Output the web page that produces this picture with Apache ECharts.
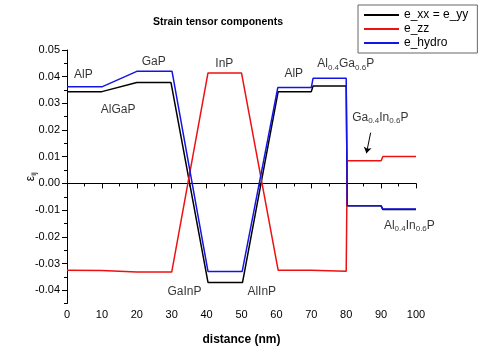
<!DOCTYPE html>
<html>
<head>
<meta charset="utf-8">
<script src="https://cdn.jsdelivr.net/npm/echarts@6/dist/echarts.min.js"></script>
<style>html,body{margin:0;padding:0;background:#fff}#main{width:480px;height:350px}</style>
</head>
<body>
<div id="main"></div>
<script>
// e_xx = e_yy
var xxX = [0, 10, 20, 29.8, 40.4, 50.3, 60.5, 70, 70.5, 80, 80.3, 90, 90.5, 100];
var xxY = [0.0344, 0.0344, 0.0378, 0.0378, -0.0371, -0.0371, 0.0344, 0.0344, 0.0365, 0.0365, -0.0084, -0.0084, -0.0098, -0.0098];
// e_zz
var zzX = [0, 10, 20, 30, 40.4, 50, 60.5, 70, 70.5, 80, 80.3, 90, 90.5, 100];
var zzY = [-0.0325, -0.0326, -0.0332, -0.0332, 0.0414, 0.0414, -0.0325, -0.0325, -0.0329, -0.0329, 0.0085, 0.0085, 0.0101, 0.0101];
// e_hydro
var hyX = [0, 10, 20, 30.1, 40.4, 50.2, 60.4, 70, 70.5, 80, 80.3, 90, 90.5, 100];
var hyY = [0.0362, 0.0362, 0.042, 0.042, -0.033, -0.033, 0.0359, 0.0359, 0.0394, 0.0394, -0.0084, -0.0084, -0.0096, -0.0096];

var yMajor = [-0.04, -0.03, -0.02, -0.01, 0, 0.01, 0.02, 0.03, 0.04, 0.05];
var yMinor = [-0.045, -0.035, -0.025, -0.015, -0.005, 0.005, 0.015, 0.025, 0.035, 0.045];

// layer labels (data coordinates)
var annoText = ['AlP', 'GaP', 'AlGaP', 'InP', 'AlP', 'Al{s|0.4}Ga{s|0.6}P', 'Ga{s|0.4}In{s|0.6}P', 'Al{s|0.4}In{s|0.6}P', 'GaInP', 'AlInP'];
var annoX = [2, 21.4, 9.7, 42.5, 62.3, 71.7, 81.7, 90.8, 28.8, 51.7];
var annoY = [0.0407, 0.0457, 0.0278, 0.0448, 0.0413, 0.0448, 0.0248, -0.0157, -0.0406, -0.0406];

function pairs(xs, ys) {
	return xs.map(function (x, i) { return [x, ys[i]]; });
}

var myChart = echarts.init(document.getElementById('main'));
var font = 'Liberation Sans, Arial, sans-serif';

var option = {
	animation: false,
	textStyle: { fontFamily: font },
	title: {
		text: 'Strain tensor components',
		left: 148,
		top: 12,
		textStyle: { fontSize: 10.5, fontWeight: 'bold', color: '#000', fontFamily: font }
	},
	legend: {
		orient: 'vertical',
		left: 358,
		top: 5,
		data: ['e_xx = e_yy', 'e_zz', 'e_hydro'],
		itemWidth: 35,
		itemHeight: 12,
		itemGap: 2,
		padding: [4, 9, 4, 5],
		borderColor: '#666',
		borderWidth: 1,
		borderRadius: 0,
		backgroundColor: '#fff',
		itemStyle: { opacity: 0, borderWidth: 0 },
		textStyle: { fontSize: 12, color: '#000', fontFamily: font }
	},
	grid: { left: 67, right: 64, top: 50, bottom: 46.5, outerBoundsMode: 'none' },
	xAxis: {
		type: 'value',
		min: 0,
		max: 100,
		interval: 10,
		name: 'distance (nm)',
		nameLocation: 'middle',
		nameGap: 30,
		nameTextStyle: { fontSize: 12, fontWeight: 'bold', color: '#000' },
		splitLine: { show: false },
		axisLine: { show: true, lineStyle: { color: '#000', width: 1 } },
		axisTick: { show: true, length: 5, lineStyle: { color: '#000' } },
		minorTick: { show: true, splitNumber: 2, length: 3, lineStyle: { color: '#000' } },
		axisLabel: { fontSize: 11, color: '#000', margin: 6 }
	},
	yAxis: [{
		type: 'value',
		min: -0.045,
		max: 0.05,
		position: 'left',
		name: '{e|ε}{s|ij}',
		nameLocation: 'middle',
		nameRotate: 90,
		nameGap: 29,
		nameMoveOverlap: false,
		nameTextStyle: {
			rich: {
				e: { fontSize: 12, color: '#000' },
				s: { fontSize: 8, color: '#000', padding: [6, 0, 0, 0] }
			}
		},
		splitLine: { show: false },
		axisLine: { show: true, lineStyle: { color: '#000', width: 1 } },
		axisTick: { show: true, customValues: yMajor, length: 5, lineStyle: { color: '#000' } },
		axisLabel: {
			customValues: yMajor,
			fontSize: 11,
			color: '#000',
			margin: 7,
			formatter: function (v) { return v.toFixed(2); }
		}
	}, {
		type: 'value',
		min: -0.045,
		max: 0.05,
		position: 'left',
		splitLine: { show: false },
		axisLine: { show: false },
		axisLabel: { show: false },
		axisTick: { show: true, customValues: yMinor, length: 3, lineStyle: { color: '#000' } }
	}],
	series: [{
		name: 'e_xx = e_yy',
		type: 'line',
		symbol: 'none',
		data: pairs(xxX, xxY),
		itemStyle: { color: '#000000' },
		lineStyle: { color: '#000000', width: 1.5 }
	}, {
		name: 'e_zz',
		type: 'line',
		symbol: 'none',
		data: pairs(zzX, zzY),
		itemStyle: { color: '#ee1111' },
		lineStyle: { color: '#ee1111', width: 1.5 },
		markLine: {
			silent: true,
			symbol: ['none', 'arrow'],
			symbolSize: 6,
			label: { show: false },
			lineStyle: { color: '#000', width: 1, type: 'solid' },
			data: [[{ coord: [87, 0.019] }, { coord: [85.8, 0.0113] }]]
		}
	}, {
		name: 'e_hydro',
		type: 'line',
		symbol: 'none',
		data: pairs(hyX, hyY),
		itemStyle: { color: '#1414e6' },
		lineStyle: { color: '#1414e6', width: 1.5 }
	}, {
		name: 'labels',
		type: 'scatter',
		symbolSize: 0,
		silent: true,
		z: 10,
		data: annoX.map(function (x, i) { return { name: annoText[i], value: [x, annoY[i]] }; }),
		label: {
			show: true,
			position: 'right',
			distance: 0,
			fontSize: 12,
			color: '#000',
			formatter: function (p) { return p.name; },
			rich: {
				s: { fontSize: 8, color: '#000', padding: [7, 0, 0, 0] }
			}
		}
	}]
};

myChart.setOption(option);
</script>
</body>
</html>
